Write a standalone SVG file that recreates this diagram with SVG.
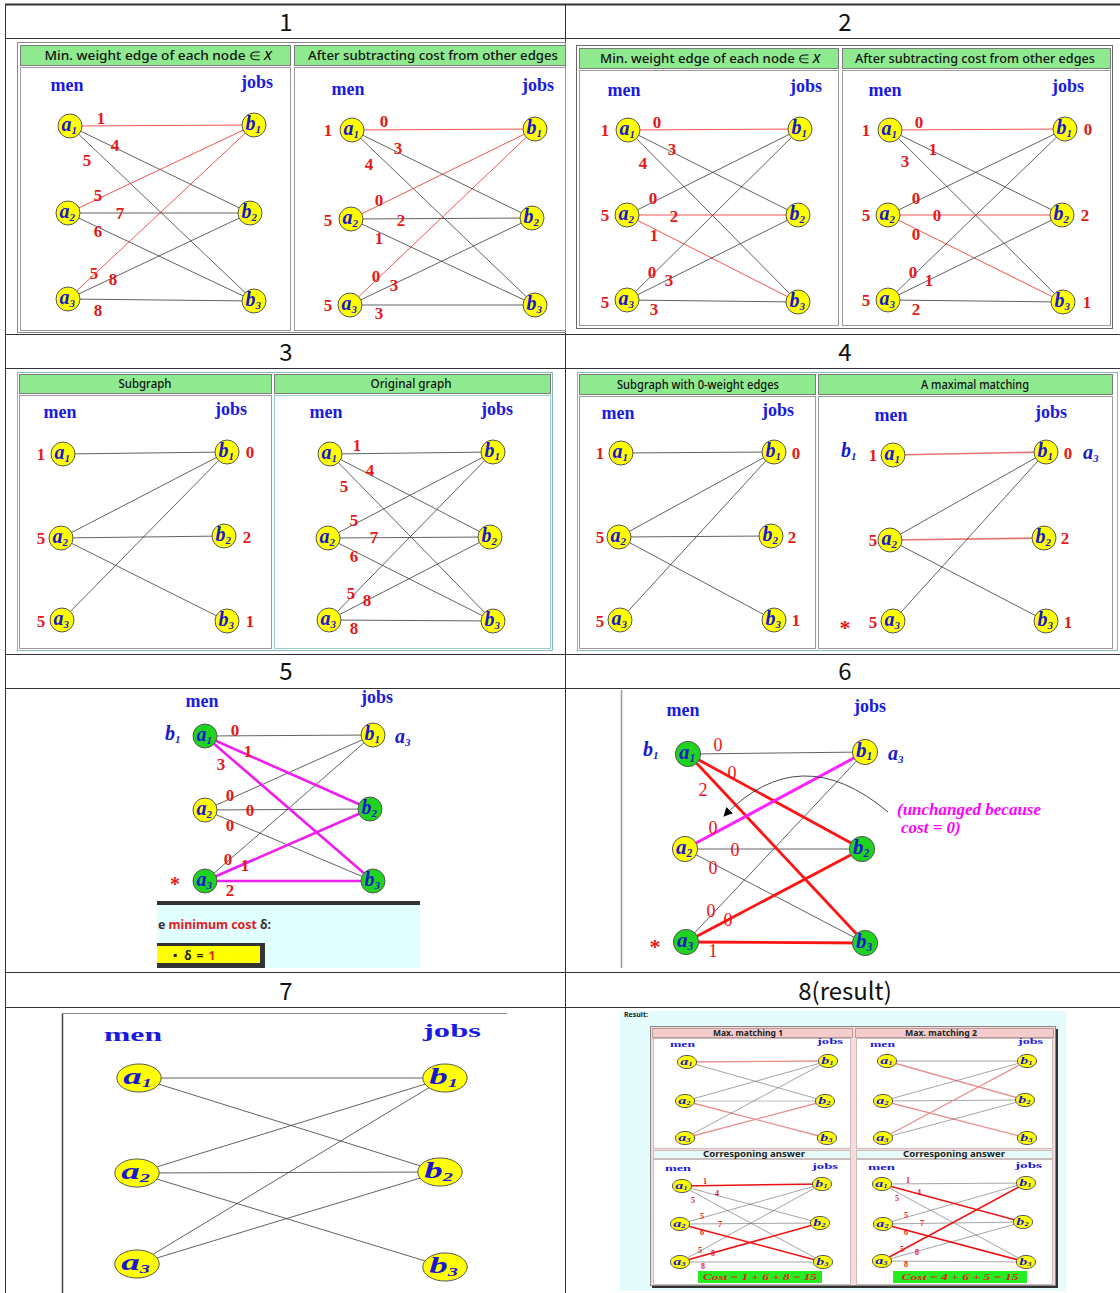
<svg xmlns="http://www.w3.org/2000/svg" width="1120" height="1293" viewBox="0 0 1120 1293">
<defs>
<style>
.hd{font-family:"Noto Sans CJK KR","Noto Sans",sans-serif;font-size:24px;text-anchor:middle;fill:#111}
.gh{fill:#8fea8f;stroke:#7c7c7c}
.ght{font-family:"Noto Sans","Open Sans",sans-serif;font-size:12px;font-weight:500;text-anchor:middle;fill:#111}
.bd{fill:#fff;stroke:#9a9a9a}
.mj{font-family:"Liberation Serif",serif;font-weight:bold;font-size:18px;fill:#1a1ae0;text-anchor:middle}
.n{font-family:"Liberation Serif",serif;font-weight:bold;font-size:17px;fill:#e61919;text-anchor:middle}
.n6{font-family:"Liberation Serif",serif;font-size:18px;fill:#f01010;text-anchor:middle}
.n8{font-family:"Liberation Serif",serif;font-weight:bold;font-size:8px;fill:#e61919;text-anchor:middle}
.m8{font-family:"Liberation Serif",serif;font-weight:bold;font-size:9px;fill:#1a1ae0}
.e{stroke:#3a3a3a;stroke-width:0.8}
.er{stroke:#f02828;stroke-width:0.8}
.ep{stroke:#e57373;stroke-width:1.6}
.em{stroke:#ee1eee;stroke-width:2.6}
.eR{stroke:#ff1414;stroke-width:2.8}
.pk{stroke:#e89090;stroke-width:1.3}
.gy{stroke:#666;stroke-width:0.6}
.rd{stroke:#ee1010;stroke-width:1.5}
.nc{stroke:#555;stroke-width:1;vector-effect:non-scaling-stroke}
.nl{font-family:"Liberation Serif",serif;font-style:italic;font-weight:bold;font-size:20px;fill:#1818d0}
.sb{font-size:11px}
.y{fill:#ffff00}
.g{fill:#1fd41f}
.st{font-family:"Liberation Serif",serif;font-weight:bold;fill:#e61919}
.sm{font-family:"Noto Sans","Open Sans",sans-serif;font-size:8px;font-weight:bold;fill:#222;text-anchor:middle}
.cost{font-family:"Liberation Serif",serif;font-style:italic;font-weight:bold;font-size:9px;fill:#e61919;text-anchor:middle}
</style>
<marker id="ah" viewBox="0 0 10 10" refX="9" refY="5" markerWidth="9" markerHeight="9" markerUnits="userSpaceOnUse" orient="auto"><path d="M0,0 L10,5 L0,10 z" fill="#000"/></marker>
<g id="A1"><circle r="12" class="nc"/><text class="nl" x="-8.5" y="5">a<tspan class="sb" dy="3">1</tspan></text></g>
<g id="A2"><circle r="12" class="nc"/><text class="nl" x="-8.5" y="5">a<tspan class="sb" dy="3">2</tspan></text></g>
<g id="A3"><circle r="12" class="nc"/><text class="nl" x="-8.5" y="5">a<tspan class="sb" dy="3">3</tspan></text></g>
<g id="B1"><circle r="12" class="nc"/><text class="nl" x="-8.5" y="5">b<tspan class="sb" dy="3">1</tspan></text></g>
<g id="B2"><circle r="12" class="nc"/><text class="nl" x="-8.5" y="5">b<tspan class="sb" dy="3">2</tspan></text></g>
<g id="B3"><circle r="12" class="nc"/><text class="nl" x="-8.5" y="5">b<tspan class="sb" dy="3">3</tspan></text></g>
</defs>
<rect width="1120" height="1293" fill="#fff"/>

<!-- table grid -->
<g id="table" fill="none" stroke="#333">
<path d="M5,4.5H1120" stroke-width="2"/>
<path d="M5.5,4V1293 M565.5,4V1293 M5,38.5H1120 M5,334.5H1120 M5,368.5H1120 M5,654.5H1120 M5,688.5H1120 M5,972.5H1120 M5,1007.5H1120"/>
</g>
<g id="row-headers">
<text class="hd" x="286" y="31">1</text>
<text class="hd" x="845" y="31">2</text>
<text class="hd" x="286" y="361">3</text>
<text class="hd" x="845" y="361">4</text>
<text class="hd" x="286" y="680">5</text>
<text class="hd" x="845" y="680">6</text>
<text class="hd" x="286" y="1000">7</text>
<text class="hd" x="845" y="1000">8(result)</text>
</g>

<!-- panel frames -->
<g id="frames">
<rect x="17.5" y="42.5" width="548" height="290" fill="#fff" stroke="#888"/>
<rect class="gh" x="20.5" y="45.5" width="270" height="20"/>
<rect class="gh" x="294.5" y="45.5" width="271" height="20"/>
<rect class="bd" x="20.5" y="67.5" width="270" height="263"/>
<rect class="bd" x="294.5" y="67.5" width="271" height="263"/>
<text class="ght" x="158" y="60" textLength="227" lengthAdjust="spacingAndGlyphs">Min. weight edge of each node ∈ <tspan font-style="italic">X</tspan></text>
<text class="ght" x="433" y="60" textLength="250" lengthAdjust="spacingAndGlyphs">After subtracting cost from other edges</text>

<rect x="576.5" y="45.5" width="536" height="283" fill="#fff" stroke="#666"/>
<rect class="gh" x="579.5" y="48.5" width="259" height="20"/>
<rect class="gh" x="842.5" y="48.5" width="268" height="20"/>
<rect class="bd" x="579.5" y="70.5" width="259" height="255"/>
<rect class="bd" x="842.5" y="70.5" width="268" height="255"/>
<text class="ght" x="710" y="63" textLength="220" lengthAdjust="spacingAndGlyphs">Min. weight edge of each node ∈ <tspan font-style="italic">X</tspan></text>
<text class="ght" x="975" y="63" textLength="240" lengthAdjust="spacingAndGlyphs">After subtracting cost from other edges</text>

<rect x="17.5" y="372.5" width="535" height="278" fill="#fff" stroke="#8bb"/>
<rect class="gh" x="19.5" y="374.5" width="252" height="19"/>
<rect class="gh" x="274.5" y="374.5" width="276" height="19"/>
<rect class="bd" x="19.5" y="395.5" width="252" height="253"/>
<rect x="274.5" y="395.5" width="276" height="253" fill="#fff" stroke="#9cc"/>
<text class="ght" x="145" y="388" font-size="11" textLength="53" lengthAdjust="spacingAndGlyphs">Subgraph</text>
<text class="ght" x="411" y="388" font-size="11" textLength="81" lengthAdjust="spacingAndGlyphs">Original graph</text>

<rect x="577.5" y="372.5" width="540" height="278" fill="#fff" stroke="#8bb"/>
<rect class="gh" x="579.5" y="374.5" width="236" height="20"/>
<rect class="gh" x="818.5" y="374.5" width="294" height="20"/>
<rect class="bd" x="579.5" y="396.5" width="236" height="252"/>
<rect class="bd" x="818.5" y="396.5" width="294" height="252"/>
<text class="ght" x="698" y="389" font-size="11" textLength="162" lengthAdjust="spacingAndGlyphs">Subgraph with 0-weight edges</text>
<text class="ght" x="975" y="389" font-size="11" textLength="108" lengthAdjust="spacingAndGlyphs">A maximal matching</text>

<rect x="157" y="901" width="263" height="4" fill="#333"/>
<rect x="157" y="905" width="263" height="63" fill="#e0ffff"/>
<text x="158" y="929" font-family="Noto Sans, Open Sans, sans-serif" font-size="12" font-weight="bold" fill="#333" textLength="113" lengthAdjust="spacingAndGlyphs">e <tspan fill="#e02020">minimum cost</tspan> δ:</text>
<rect x="157" y="943" width="108" height="25" fill="#333"/>
<rect x="157" y="946" width="103" height="17" fill="#ffff00"/>
<g font-family="Noto Sans, Open Sans, sans-serif" font-size="12" font-weight="bold" fill="#222" text-anchor="middle">
<text x="175" y="959">▪</text><text x="188" y="960">δ</text><text x="200" y="960">=</text><text x="212" y="960" fill="#e02020">1</text>
</g>

<path d="M621.5,690V968" stroke="#999" stroke-width="1.5"/>
<path d="M62.5,1013V1293" stroke="#444" stroke-width="1.5"/>
<path d="M62,1013.5H507" stroke="#888"/>

<rect x="620" y="1011" width="446" height="280" fill="#e4fcfc"/>
<text x="624" y="1017" font-family="Noto Sans, Open Sans, sans-serif" font-size="7" font-weight="bold" fill="#222">Result:</text>
<rect x="1054" y="1029" width="4" height="259" fill="#333"/>
<rect x="652" y="1285" width="406" height="3" fill="#333"/>
<rect x="650.5" y="1026.5" width="405" height="259" fill="#f7dada" stroke="#888"/>
<rect x="652.5" y="1028.5" width="200" height="9" fill="#f5cccc" stroke="#b99"/>
<rect x="855.5" y="1028.5" width="198" height="9" fill="#f5cccc" stroke="#b99"/>
<rect x="653.5" y="1038.5" width="197" height="110" fill="#fff" stroke="#cbb"/>
<rect x="856.5" y="1038.5" width="196" height="110" fill="#fff" stroke="#cbb"/>
<rect x="653.5" y="1150.5" width="197" height="8" fill="#e6fafa" stroke="#cbb"/>
<rect x="856.5" y="1150.5" width="196" height="8" fill="#e6fafa" stroke="#cbb"/>
<rect x="653.5" y="1159.5" width="197" height="125" fill="#fff" stroke="#cbb"/>
<rect x="856.5" y="1159.5" width="196" height="125" fill="#fff" stroke="#cbb"/>
<text class="sm" x="748" y="1035.5" font-size="7" textLength="70" lengthAdjust="spacingAndGlyphs">Max. matching 1</text>
<text class="sm" x="941" y="1035.5" font-size="7" textLength="72" lengthAdjust="spacingAndGlyphs">Max. matching 2</text>
<text class="sm" x="754" y="1157" font-size="7" textLength="102" lengthAdjust="spacingAndGlyphs">Corresponing answer</text>
<text class="sm" x="954" y="1157" font-size="7" textLength="102" lengthAdjust="spacingAndGlyphs">Corresponing answer</text>
<rect x="698" y="1271" width="124" height="12" fill="#22ee22"/>
<rect x="893" y="1271" width="134" height="12" fill="#22ee22"/>
<text class="cost" x="760" y="1280" textLength="114" lengthAdjust="spacingAndGlyphs">Cost = 1 + 6 + 8 = 15</text>
<text class="cost" x="960" y="1280" textLength="117" lengthAdjust="spacingAndGlyphs">Cost = 4 + 6 + 5 = 15</text>
</g>

<!-- connectors -->
<g id="connectors">
<g id="c-p1l">
<line class="er" x1="70" y1="126" x2="254" y2="125"/><line class="e" x1="70" y1="126" x2="250" y2="213"/><line class="e" x1="70" y1="126" x2="254" y2="301"/>
<line class="er" x1="68" y1="213" x2="254" y2="125"/><line class="e" x1="68" y1="213" x2="250" y2="213"/><line class="e" x1="68" y1="213" x2="254" y2="301"/>
<line class="er" x1="68" y1="299" x2="254" y2="125"/><line class="e" x1="68" y1="299" x2="250" y2="213"/><line class="e" x1="68" y1="299" x2="254" y2="301"/>
</g>
<g id="c-p1r">
<line class="er" x1="352" y1="130" x2="535" y2="129"/><line class="e" x1="352" y1="130" x2="532" y2="218"/><line class="e" x1="352" y1="130" x2="535" y2="305"/>
<line class="er" x1="351" y1="219" x2="535" y2="129"/><line class="e" x1="351" y1="219" x2="532" y2="218"/><line class="e" x1="351" y1="219" x2="535" y2="305"/>
<line class="er" x1="350" y1="305" x2="535" y2="129"/><line class="e" x1="350" y1="305" x2="532" y2="218"/><line class="e" x1="350" y1="305" x2="535" y2="305"/>
</g>
<g id="c-p2l">
<line class="er" x1="628" y1="130" x2="800" y2="129"/><line class="e" x1="628" y1="130" x2="798" y2="215"/><line class="e" x1="628" y1="130" x2="798" y2="302"/>
<line class="e" x1="627" y1="215" x2="800" y2="129"/><line class="er" x1="627" y1="215" x2="798" y2="215"/><line class="er" x1="627" y1="215" x2="798" y2="302"/>
<line class="e" x1="627" y1="300" x2="800" y2="129"/><line class="e" x1="627" y1="300" x2="798" y2="215"/><line class="e" x1="627" y1="300" x2="798" y2="302"/>
</g>
<g id="c-p2r">
<line class="er" x1="890" y1="130" x2="1065" y2="129"/><line class="e" x1="890" y1="130" x2="1062" y2="215"/><line class="e" x1="890" y1="130" x2="1063" y2="302"/>
<line class="e" x1="888" y1="215" x2="1065" y2="129"/><line class="er" x1="888" y1="215" x2="1062" y2="215"/><line class="er" x1="888" y1="215" x2="1063" y2="302"/>
<line class="e" x1="888" y1="300" x2="1065" y2="129"/><line class="e" x1="888" y1="300" x2="1062" y2="215"/><line class="e" x1="888" y1="300" x2="1063" y2="302"/>
</g>
<g id="c-p3l">
<line class="e" x1="63" y1="454" x2="227" y2="452"/><line class="e" x1="61" y1="538" x2="227" y2="452"/><line class="e" x1="61" y1="538" x2="224" y2="536"/><line class="e" x1="61" y1="538" x2="227" y2="621"/><line class="e" x1="62" y1="620" x2="227" y2="452"/>
</g>
<g id="c-p3r">
<line class="e" x1="330" y1="454" x2="493" y2="452"/><line class="e" x1="330" y1="454" x2="490" y2="537"/><line class="e" x1="330" y1="454" x2="493" y2="621"/>
<line class="e" x1="328" y1="538" x2="493" y2="452"/><line class="e" x1="328" y1="538" x2="490" y2="537"/><line class="e" x1="328" y1="538" x2="493" y2="621"/>
<line class="e" x1="329" y1="620" x2="493" y2="452"/><line class="e" x1="329" y1="620" x2="490" y2="537"/><line class="e" x1="329" y1="620" x2="493" y2="621"/>
</g>
<g id="c-p4l">
<line class="e" x1="621" y1="453" x2="774" y2="452"/><line class="e" x1="619" y1="537" x2="774" y2="452"/><line class="e" x1="619" y1="537" x2="771" y2="536"/><line class="e" x1="619" y1="537" x2="774" y2="620"/><line class="e" x1="620" y1="620" x2="774" y2="452"/>
</g>
<g id="c-p4r">
<line class="ep" x1="893" y1="455" x2="1046" y2="452"/><line class="e" x1="890" y1="540" x2="1046" y2="452"/><line class="ep" x1="890" y1="540" x2="1044" y2="538"/><line class="e" x1="890" y1="540" x2="1046" y2="621"/><line class="e" x1="893" y1="621" x2="1046" y2="452"/>
</g>
<g id="c-p5">
<line class="e" x1="205" y1="736" x2="373" y2="735"/><line class="e" x1="205" y1="810" x2="373" y2="735"/><line class="e" x1="205" y1="810" x2="370" y2="809"/><line class="e" x1="205" y1="810" x2="373" y2="881"/><line class="e" x1="205" y1="881" x2="373" y2="735"/>
<line class="em" x1="205" y1="736" x2="370" y2="809"/><line class="em" x1="205" y1="736" x2="373" y2="881"/><line class="em" x1="205" y1="881" x2="370" y2="809"/><line class="em" x1="205" y1="881" x2="373" y2="881"/>
</g>
<g id="c-p6">
<line class="e" x1="688" y1="754" x2="865" y2="752"/><line class="e" x1="685" y1="849" x2="862" y2="849"/><line class="e" x1="685" y1="849" x2="865" y2="943"/><line class="e" x1="686" y1="942" x2="865" y2="752"/>
<line class="eR" x1="688" y1="754" x2="862" y2="849"/><line class="eR" x1="688" y1="754" x2="865" y2="943"/><line class="eR" x1="686" y1="942" x2="862" y2="849"/><line class="eR" x1="686" y1="942" x2="865" y2="943"/>
<line stroke="#ff22ff" stroke-width="3" x1="685" y1="849" x2="865" y2="752"/>
<path d="M888,812 Q800,738 724,816" fill="none" stroke="#333" stroke-width="0.9" marker-end="url(#ah)"/>
</g>
<g id="c-p7">
<line class="e" x1="139" y1="1078" x2="445" y2="1078"/><line class="e" x1="139" y1="1078" x2="440" y2="1172"/>
<line class="e" x1="137" y1="1173" x2="445" y2="1078"/><line class="e" x1="137" y1="1173" x2="440" y2="1172"/><line class="e" x1="137" y1="1173" x2="445" y2="1267"/>
<line class="e" x1="137" y1="1264" x2="445" y2="1078"/><line class="e" x1="137" y1="1264" x2="440" y2="1172"/>
</g>
<g id="c-p8">
<line class="pk" x1="687" y1="1062" x2="828" y2="1061"/><line class="gy" x1="687" y1="1062" x2="825" y2="1101"/><line class="gy" x1="685" y1="1101" x2="828" y2="1061"/><line stroke="#aaa" stroke-width="0.8" x1="685" y1="1101" x2="825" y2="1101"/><line class="pk" x1="685" y1="1101" x2="827" y2="1138"/><line class="gy" x1="685" y1="1138" x2="828" y2="1061"/><line class="pk" x1="685" y1="1138" x2="825" y2="1101"/>
<line class="gy" x1="887" y1="1061" x2="1027" y2="1061"/><line class="pk" x1="887" y1="1061" x2="1025" y2="1100"/><line class="gy" x1="883" y1="1101" x2="1027" y2="1061"/><line class="gy" x1="883" y1="1101" x2="1025" y2="1100"/><line class="pk" x1="883" y1="1101" x2="1027" y2="1138"/><line class="pk" x1="883" y1="1138" x2="1027" y2="1061"/><line class="gy" x1="883" y1="1138" x2="1025" y2="1100"/>
<line class="gy" x1="682" y1="1186" x2="820" y2="1223"/><line class="gy" x1="682" y1="1186" x2="823" y2="1262"/><line class="gy" x1="680" y1="1224" x2="822" y2="1184"/><line class="gy" x1="680" y1="1224" x2="820" y2="1223"/><line class="gy" x1="680" y1="1262" x2="822" y2="1184"/><line class="gy" x1="680" y1="1262" x2="823" y2="1262"/>
<line class="rd" x1="682" y1="1186" x2="822" y2="1184"/><line class="rd" x1="680" y1="1224" x2="823" y2="1262"/><line class="rd" x1="680" y1="1262" x2="820" y2="1223"/>
<line class="gy" x1="882" y1="1184" x2="1026" y2="1183"/><line class="gy" x1="882" y1="1184" x2="1026" y2="1262"/><line class="gy" x1="883" y1="1224" x2="1026" y2="1183"/><line class="gy" x1="883" y1="1224" x2="1023" y2="1222"/><line class="gy" x1="882" y1="1261" x2="1023" y2="1222"/><line class="gy" x1="882" y1="1261" x2="1026" y2="1262"/>
<line class="rd" x1="882" y1="1184" x2="1023" y2="1222"/><line class="rd" x1="883" y1="1224" x2="1026" y2="1262"/><line class="rd" x1="882" y1="1261" x2="1026" y2="1183"/>
</g>
</g>

<!-- nodes -->
<g id="nodes">
<g id="p1l-a1"><use href="#A1" class="y" x="70" y="126"/></g>
<g id="p1l-a2"><use href="#A2" class="y" x="68" y="213"/></g>
<g id="p1l-a3"><use href="#A3" class="y" x="68" y="299"/></g>
<g id="p1l-b1"><use href="#B1" class="y" x="254" y="125"/></g>
<g id="p1l-b2"><use href="#B2" class="y" x="250" y="213"/></g>
<g id="p1l-b3"><use href="#B3" class="y" x="254" y="301"/></g>
<g id="p1r-a1"><use href="#A1" class="y" x="352" y="130"/></g>
<g id="p1r-a2"><use href="#A2" class="y" x="351" y="219"/></g>
<g id="p1r-a3"><use href="#A3" class="y" x="350" y="305"/></g>
<g id="p1r-b1"><use href="#B1" class="y" x="535" y="129"/></g>
<g id="p1r-b2"><use href="#B2" class="y" x="532" y="218"/></g>
<g id="p1r-b3"><use href="#B3" class="y" x="535" y="305"/></g>
<g id="p2l-a1"><use href="#A1" class="y" x="628" y="130"/></g>
<g id="p2l-a2"><use href="#A2" class="y" x="627" y="215"/></g>
<g id="p2l-a3"><use href="#A3" class="y" x="627" y="300"/></g>
<g id="p2l-b1"><use href="#B1" class="y" x="800" y="129"/></g>
<g id="p2l-b2"><use href="#B2" class="y" x="798" y="215"/></g>
<g id="p2l-b3"><use href="#B3" class="y" x="798" y="302"/></g>
<g id="p2r-a1"><use href="#A1" class="y" x="890" y="130"/></g>
<g id="p2r-a2"><use href="#A2" class="y" x="888" y="215"/></g>
<g id="p2r-a3"><use href="#A3" class="y" x="888" y="300"/></g>
<g id="p2r-b1"><use href="#B1" class="y" x="1065" y="129"/></g>
<g id="p2r-b2"><use href="#B2" class="y" x="1062" y="215"/></g>
<g id="p2r-b3"><use href="#B3" class="y" x="1063" y="302"/></g>
<g id="p3l-a1"><use href="#A1" class="y" x="63" y="454"/></g>
<g id="p3l-a2"><use href="#A2" class="y" x="61" y="538"/></g>
<g id="p3l-a3"><use href="#A3" class="y" x="62" y="620"/></g>
<g id="p3l-b1"><use href="#B1" class="y" x="227" y="452"/></g>
<g id="p3l-b2"><use href="#B2" class="y" x="224" y="536"/></g>
<g id="p3l-b3"><use href="#B3" class="y" x="227" y="621"/></g>
<g id="p3r-a1"><use href="#A1" class="y" x="330" y="454"/></g>
<g id="p3r-a2"><use href="#A2" class="y" x="328" y="538"/></g>
<g id="p3r-a3"><use href="#A3" class="y" x="329" y="620"/></g>
<g id="p3r-b1"><use href="#B1" class="y" x="493" y="452"/></g>
<g id="p3r-b2"><use href="#B2" class="y" x="490" y="537"/></g>
<g id="p3r-b3"><use href="#B3" class="y" x="493" y="621"/></g>
<g id="p4l-a1"><use href="#A1" class="y" x="621" y="453"/></g>
<g id="p4l-a2"><use href="#A2" class="y" x="619" y="537"/></g>
<g id="p4l-a3"><use href="#A3" class="y" x="620" y="620"/></g>
<g id="p4l-b1"><use href="#B1" class="y" x="774" y="452"/></g>
<g id="p4l-b2"><use href="#B2" class="y" x="771" y="536"/></g>
<g id="p4l-b3"><use href="#B3" class="y" x="774" y="620"/></g>
<g id="p4r-a1"><use href="#A1" class="y" x="893" y="455"/></g>
<g id="p4r-a2"><use href="#A2" class="y" x="890" y="540"/></g>
<g id="p4r-a3"><use href="#A3" class="y" x="893" y="621"/></g>
<g id="p4r-b1"><use href="#B1" class="y" x="1046" y="452"/></g>
<g id="p4r-b2"><use href="#B2" class="y" x="1044" y="538"/></g>
<g id="p4r-b3"><use href="#B3" class="y" x="1046" y="621"/></g>
<g id="p5-a1"><use href="#A1" class="g" x="205" y="736"/></g>
<g id="p5-a2"><use href="#A2" class="y" x="205" y="810"/></g>
<g id="p5-a3"><use href="#A3" class="g" x="205" y="881"/></g>
<g id="p5-b1"><use href="#B1" class="y" x="373" y="735"/></g>
<g id="p5-b2"><use href="#B2" class="g" x="370" y="809"/></g>
<g id="p5-b3"><use href="#B3" class="g" x="373" y="881"/></g>
<g id="p6-a1" transform="translate(688,754) scale(1.05)"><use href="#A1" class="g"/></g>
<g id="p6-a2" transform="translate(685,849) scale(1.05)"><use href="#A2" class="y"/></g>
<g id="p6-a3" transform="translate(686,942) scale(1.05)"><use href="#A3" class="g"/></g>
<g id="p6-b1" transform="translate(865,752) scale(1.05)"><use href="#B1" class="y"/></g>
<g id="p6-b2" transform="translate(862,849) scale(1.05)"><use href="#B2" class="g"/></g>
<g id="p6-b3" transform="translate(865,943) scale(1.05)"><use href="#B3" class="g"/></g>
<g id="p7-a1" transform="translate(139,1078) scale(1.85,1.17)"><use href="#A1" class="y"/></g>
<g id="p7-a2" transform="translate(137,1173) scale(1.85,1.17)"><use href="#A2" class="y"/></g>
<g id="p7-a3" transform="translate(137,1264) scale(1.85,1.17)"><use href="#A3" class="y"/></g>
<g id="p7-b1" transform="translate(445,1078) scale(1.85,1.17)"><use href="#B1" class="y"/></g>
<g id="p7-b2" transform="translate(440,1172) scale(1.85,1.17)"><use href="#B2" class="y"/></g>
<g id="p7-b3" transform="translate(445,1267) scale(1.85,1.17)"><use href="#B3" class="y"/></g>
<g id="mm1-a1" transform="translate(687,1062) scale(0.8,0.55)"><use href="#A1" class="y"/></g>
<g id="mm1-a2" transform="translate(685,1101) scale(0.8,0.55)"><use href="#A2" class="y"/></g>
<g id="mm1-a3" transform="translate(685,1138) scale(0.8,0.55)"><use href="#A3" class="y"/></g>
<g id="mm1-b1" transform="translate(828,1061) scale(0.8,0.55)"><use href="#B1" class="y"/></g>
<g id="mm1-b2" transform="translate(825,1101) scale(0.8,0.55)"><use href="#B2" class="y"/></g>
<g id="mm1-b3" transform="translate(827,1138) scale(0.8,0.55)"><use href="#B3" class="y"/></g>
<g id="mm2-a1" transform="translate(887,1061) scale(0.8,0.55)"><use href="#A1" class="y"/></g>
<g id="mm2-a2" transform="translate(883,1101) scale(0.8,0.55)"><use href="#A2" class="y"/></g>
<g id="mm2-a3" transform="translate(883,1138) scale(0.8,0.55)"><use href="#A3" class="y"/></g>
<g id="mm2-b1" transform="translate(1027,1061) scale(0.8,0.55)"><use href="#B1" class="y"/></g>
<g id="mm2-b2" transform="translate(1025,1100) scale(0.8,0.55)"><use href="#B2" class="y"/></g>
<g id="mm2-b3" transform="translate(1027,1138) scale(0.8,0.55)"><use href="#B3" class="y"/></g>
<g id="ca1-a1" transform="translate(682,1186) scale(0.8,0.55)"><use href="#A1" class="y"/></g>
<g id="ca1-a2" transform="translate(680,1224) scale(0.8,0.55)"><use href="#A2" class="y"/></g>
<g id="ca1-a3" transform="translate(680,1262) scale(0.8,0.55)"><use href="#A3" class="y"/></g>
<g id="ca1-b1" transform="translate(822,1184) scale(0.8,0.55)"><use href="#B1" class="y"/></g>
<g id="ca1-b2" transform="translate(820,1223) scale(0.8,0.55)"><use href="#B2" class="y"/></g>
<g id="ca1-b3" transform="translate(823,1262) scale(0.8,0.55)"><use href="#B3" class="y"/></g>
<g id="ca2-a1" transform="translate(882,1184) scale(0.8,0.55)"><use href="#A1" class="y"/></g>
<g id="ca2-a2" transform="translate(883,1224) scale(0.8,0.55)"><use href="#A2" class="y"/></g>
<g id="ca2-a3" transform="translate(882,1261) scale(0.8,0.55)"><use href="#A3" class="y"/></g>
<g id="ca2-b1" transform="translate(1026,1183) scale(0.8,0.55)"><use href="#B1" class="y"/></g>
<g id="ca2-b2" transform="translate(1023,1222) scale(0.8,0.55)"><use href="#B2" class="y"/></g>
<g id="ca2-b3" transform="translate(1026,1262) scale(0.8,0.55)"><use href="#B3" class="y"/></g>
</g>

<!-- labels -->
<g id="labels">
<text class="mj" x="67" y="91">men</text><text class="mj" x="257" y="88">jobs</text>
<text class="mj" x="348" y="95">men</text><text class="mj" x="538" y="91">jobs</text>
<text class="mj" x="624" y="96">men</text><text class="mj" x="806" y="92">jobs</text>
<text class="mj" x="885" y="96">men</text><text class="mj" x="1068" y="92">jobs</text>
<text class="mj" x="60" y="418">men</text><text class="mj" x="231" y="415">jobs</text>
<text class="mj" x="326" y="418">men</text><text class="mj" x="497" y="415">jobs</text>
<text class="mj" x="618" y="419">men</text><text class="mj" x="778" y="416">jobs</text>
<text class="mj" x="891" y="421">men</text><text class="mj" x="1051" y="418">jobs</text>
<text class="mj" x="202" y="707" font-size="16">men</text><text class="mj" x="377" y="703" font-size="16">jobs</text>
<text class="mj" x="683" y="716" font-size="19">men</text><text class="mj" x="870" y="712" font-size="19">jobs</text>
<text class="mj" x="133" y="1041" font-size="22" textLength="58" lengthAdjust="spacingAndGlyphs">men</text><text class="mj" x="452" y="1037" font-size="22" textLength="58" lengthAdjust="spacingAndGlyphs">jobs</text>
<text class="m8" x="670" y="1047" textLength="25" lengthAdjust="spacingAndGlyphs">men</text><text class="m8" x="817" y="1044" textLength="26" lengthAdjust="spacingAndGlyphs">jobs</text>
<text class="m8" x="870" y="1047" textLength="25" lengthAdjust="spacingAndGlyphs">men</text><text class="m8" x="1018" y="1044" textLength="25" lengthAdjust="spacingAndGlyphs">jobs</text>
<text class="m8" x="665" y="1171" textLength="26" lengthAdjust="spacingAndGlyphs">men</text><text class="m8" x="812" y="1169" textLength="26" lengthAdjust="spacingAndGlyphs">jobs</text>
<text class="m8" x="868" y="1170" textLength="27" lengthAdjust="spacingAndGlyphs">men</text><text class="m8" x="1015" y="1168" textLength="27" lengthAdjust="spacingAndGlyphs">jobs</text>

<g id="w-p1l">
<text class="n" x="101" y="124">1</text><text class="n" x="115" y="151">4</text><text class="n" x="87" y="166">5</text>
<text class="n" x="98" y="201">5</text><text class="n" x="120" y="219">7</text><text class="n" x="98" y="237">6</text>
<text class="n" x="94" y="279">5</text><text class="n" x="113" y="285">8</text><text class="n" x="98" y="316">8</text>
</g>
<g id="w-p1r">
<text class="n" x="328" y="136">1</text><text class="n" x="328" y="226">5</text><text class="n" x="328" y="311">5</text>
<text class="n" x="384" y="127">0</text><text class="n" x="398" y="154">3</text><text class="n" x="369" y="170">4</text>
<text class="n" x="379" y="206">0</text><text class="n" x="401" y="226">2</text><text class="n" x="379" y="244">1</text>
<text class="n" x="376" y="282">0</text><text class="n" x="394" y="291">3</text><text class="n" x="379" y="319">3</text>
</g>
<g id="w-p2l">
<text class="n" x="605" y="136">1</text><text class="n" x="605" y="221">5</text><text class="n" x="605" y="308">5</text>
<text class="n" x="657" y="128">0</text><text class="n" x="672" y="155">3</text><text class="n" x="643" y="169">4</text>
<text class="n" x="653" y="204">0</text><text class="n" x="674" y="222">2</text><text class="n" x="654" y="241">1</text>
<text class="n" x="652" y="278">0</text><text class="n" x="669" y="286">3</text><text class="n" x="654" y="315">3</text>
</g>
<g id="w-p2r">
<text class="n" x="866" y="136">1</text><text class="n" x="866" y="221">5</text><text class="n" x="866" y="306">5</text>
<text class="n" x="1088" y="135">0</text><text class="n" x="1085" y="221">2</text><text class="n" x="1087" y="308">1</text>
<text class="n" x="919" y="128">0</text><text class="n" x="933" y="155">1</text><text class="n" x="905" y="167">3</text>
<text class="n" x="916" y="204">0</text><text class="n" x="937" y="221">0</text><text class="n" x="916" y="240">0</text>
<text class="n" x="913" y="278">0</text><text class="n" x="929" y="286">1</text><text class="n" x="916" y="315">2</text>
</g>
<g id="w-p3l">
<text class="n" x="41" y="460">1</text><text class="n" x="250" y="458">0</text>
<text class="n" x="41" y="544">5</text><text class="n" x="247" y="543">2</text>
<text class="n" x="41" y="627">5</text><text class="n" x="250" y="627">1</text>
</g>
<g id="w-p3r">
<text class="n" x="357" y="451">1</text><text class="n" x="370" y="476">4</text><text class="n" x="344" y="492">5</text>
<text class="n" x="354" y="526">5</text><text class="n" x="374" y="543">7</text><text class="n" x="354" y="562">6</text>
<text class="n" x="351" y="599">5</text><text class="n" x="367" y="606">8</text><text class="n" x="354" y="634">8</text>
</g>
<g id="w-p4l">
<text class="n" x="600" y="459">1</text><text class="n" x="796" y="459">0</text>
<text class="n" x="600" y="543">5</text><text class="n" x="792" y="543">2</text>
<text class="n" x="600" y="627">5</text><text class="n" x="796" y="626">1</text>
</g>
<g id="w-p4r">
<text class="n" x="873" y="461">1</text><text class="n" x="1068" y="459">0</text>
<text class="n" x="873" y="546">5</text><text class="n" x="1065" y="544">2</text>
<text class="n" x="873" y="628">5</text><text class="n" x="1068" y="628">1</text>
<text class="st" x="845" y="635" font-size="22" text-anchor="middle">*</text>
<text class="nl" x="841" y="457" font-size="20">b<tspan class="sb" dy="3">1</tspan></text>
<text class="nl" x="1083" y="459" font-size="20">a<tspan class="sb" dy="3">3</tspan></text>
</g>
<g id="w-p5">
<text class="n" x="235" y="736" font-size="15">0</text><text class="n" x="248" y="757" font-size="15">1</text><text class="n" x="221" y="770" font-size="15">3</text>
<text class="n" x="230" y="801" font-size="15">0</text><text class="n" x="250" y="816" font-size="15">0</text><text class="n" x="230" y="831" font-size="15">0</text>
<text class="n" x="228" y="865" font-size="15">0</text><text class="n" x="245" y="871" font-size="15">1</text><text class="n" x="230" y="896" font-size="15">2</text>
<text class="st" x="175" y="891" font-size="20" text-anchor="middle">*</text>
<text class="nl" x="165" y="740" font-size="18">b<tspan class="sb" dy="3">1</tspan></text>
<text class="nl" x="395" y="743" font-size="18">a<tspan class="sb" dy="3">3</tspan></text>
</g>
<g id="w-p6">
<text class="n6" x="718" y="751">0</text><text class="n6" x="732" y="779">0</text><text class="n6" x="703" y="796">2</text>
<text class="n6" x="713" y="834">0</text><text class="n6" x="735" y="856">0</text><text class="n6" x="713" y="874">0</text>
<text class="n6" x="711" y="917">0</text><text class="n6" x="728" y="926">0</text><text class="n6" x="713" y="957">1</text>
<text class="st" x="655" y="954" font-size="22" text-anchor="middle">*</text>
<text class="nl" x="643" y="756" font-size="20">b<tspan class="sb" dy="3">1</tspan></text>
<text class="nl" x="888" y="760" font-size="20">a<tspan class="sb" dy="3">3</tspan></text>
<text x="897" y="815" font-family="Liberation Serif, serif" font-style="italic" font-weight="bold" font-size="17" fill="#ff00ff">(unchanged because</text>
<text x="901" y="833" font-family="Liberation Serif, serif" font-style="italic" font-weight="bold" font-size="17" fill="#ff00ff">cost = 0)</text>
</g>
<g id="w-ca1">
<text class="n8" x="705" y="1184">1</text><text class="n8" x="717" y="1196">4</text><text class="n8" x="693" y="1203">5</text>
<text class="n8" x="702" y="1219">5</text><text class="n8" x="720" y="1227">7</text><text class="n8" x="702" y="1235">6</text>
<text class="n8" x="700" y="1253">5</text><text class="n8" x="713" y="1256">8</text><text class="n8" x="703" y="1269">8</text>
</g>
<g id="w-ca2">
<text class="n8" x="908" y="1183">1</text><text class="n8" x="919" y="1195">4</text><text class="n8" x="897" y="1201">5</text>
<text class="n8" x="906" y="1218">5</text><text class="n8" x="922" y="1226">7</text><text class="n8" x="906" y="1235">6</text>
<text class="n8" x="902" y="1252">5</text><text class="n8" x="917" y="1255">8</text><text class="n8" x="906" y="1267">8</text>
</g>
</g>
</svg>
